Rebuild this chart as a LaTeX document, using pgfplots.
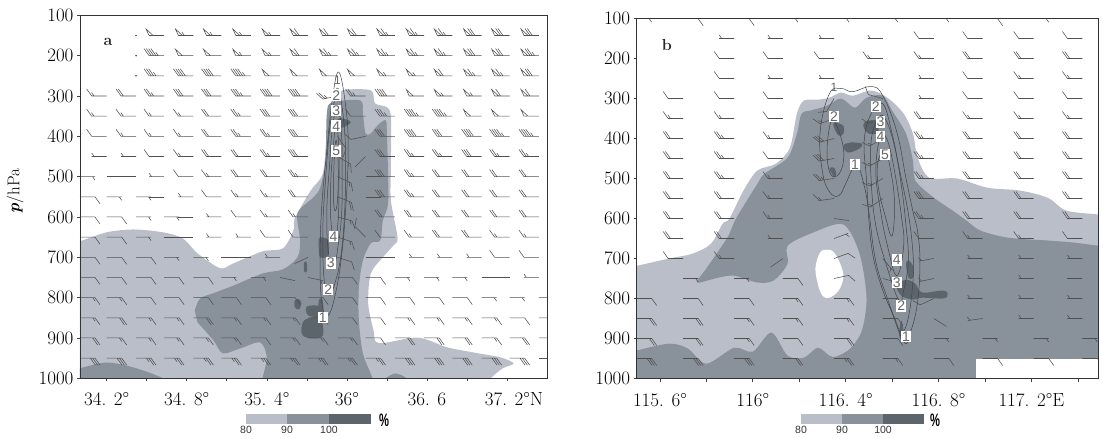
\documentclass[border=0pt]{standalone}
\usepackage{pgfplots}
\usepackage{fontspec}
\pgfplotsset{compat=1.18}
\newfontfamily\sansf{Liberation Sans}
\definecolor{c80}{RGB}{186,190,200}
\definecolor{c90}{RGB}{137,145,155}
\definecolor{c100}{RGB}{93,101,108}
\definecolor{barbc}{RGB}{80,80,80}
\definecolor{contc}{RGB}{65,68,72}
\newcommand\BS{\pgfpathmoveto{\pgfqpoint{0pt}{0pt}}\pgfpathlineto{\pgfqpoint{-15pt}{0pt}}}
\newcommand\BF[1]{\pgfpathmoveto{\pgfqpoint{#1pt}{0pt}}\pgfpathlineto{\pgfpointadd{\pgfqpoint{#1pt}{0pt}}{\pgfqpoint{-5pt}{7pt}}}}
\newcommand\BH[1]{\pgfpathmoveto{\pgfqpoint{#1pt}{0pt}}\pgfpathlineto{\pgfpointadd{\pgfqpoint{#1pt}{0pt}}{\pgfqpoint{-2.5pt}{3.5pt}}}}
\newcommand\BP{\pgfpathmoveto{\pgfqpoint{-15pt}{0pt}}\pgfpathlineto{\pgfqpoint{-18pt}{6.5pt}}\pgfpathlineto{\pgfqpoint{-11pt}{0pt}}}
\newcommand\defbarb[2]{%
 \pgfdeclareplotmark{w#1}{\BS #2\pgfusepathqstroke}%
 \pgfdeclareplotmark{e#1}{\pgftransformrotate{180}\BS #2\pgfusepathqstroke}}
\defbarb{0}{}
\defbarb{1}{\BH{-12.5}}
\defbarb{2}{\BF{-15}}
\defbarb{3}{\BF{-15}\BH{-12.7}}
\defbarb{4}{\BF{-15}\BF{-12.7}}
\defbarb{5}{\BF{-15}\BF{-12.7}\BH{-10.4}}
\defbarb{6}{\BF{-15}\BF{-12.7}\BF{-10.4}}
\defbarb{7}{\BF{-15}\BF{-12.7}\BF{-10.4}\BH{-8.1}}
\defbarb{8}{\BF{-15}\BF{-12.7}\BF{-10.4}\BF{-8.1}}
\defbarb{9}{\BF{-15}\BF{-12.7}\BF{-10.4}\BF{-8.1}\BH{-5.8}}
\defbarb{10}{\BP}
\defbarb{11}{\BP\BH{-9}}
\defbarb{12}{\BP\BF{-9}}
\defbarb{13}{\BP\BF{-9}\BH{-6.7}}
\defbarb{14}{\BP\BF{-9}\BF{-6.7}}
\defbarb{15}{\BP\BF{-9}\BF{-6.7}\BH{-4.4}}
\pgfplotsset{
 barbs/.style={only marks,scatter,scatter src=explicit symbolic,line width=.55pt,
  scatter/classes={d={mark=*,mark size=.5,barbc},
  w0={mark=w0,barbc},w1={mark=w1,barbc},w2={mark=w2,barbc},w3={mark=w3,barbc},w4={mark=w4,barbc},
  w5={mark=w5,barbc},w6={mark=w6,barbc},w7={mark=w7,barbc},w8={mark=w8,barbc},w9={mark=w9,barbc},
  w10={mark=w10,barbc},w11={mark=w11,barbc},w12={mark=w12,barbc},w13={mark=w13,barbc},w14={mark=w14,barbc},w15={mark=w15,barbc},
  e0={mark=e0,barbc},e1={mark=e1,barbc},e2={mark=e2,barbc},e3={mark=e3,barbc},e4={mark=e4,barbc},e5={mark=e5,barbc},e6={mark=e6,barbc}}},
 panel/.style={scale only axis,y dir=reverse,ymin=100,ymax=1000,ytick={100,200,...,1000},
  axis on top,clip=true,clip marker paths=true,tick align=outside,major tick length=3pt,
  axis line style={black!80,line width=.8pt},
  tick style={black!75,line width=.6pt},
  xtick pos=lower,ytick pos=lower,
  /pgf/number format/assume math mode=true,
  /pgf/number format/set thousands separator={},
  ticklabel style={font=\fontsize{19}{21}\selectfont,black},
  yticklabel style={xshift=0pt},
  xticklabel style={yshift=-8pt}},
 fa/.style={draw=none,smooth,tension=.5},
 pa/.style={draw=none,smooth cycle,tension=.6},
 ct/.style={contc,line width=.5pt,smooth cycle,tension=.7,no marks}
}
\newcommand\rb[4]{\addplot[only marks,mark=#1,mark options={rotate=#2},barbc,line width=.55pt] coordinates {(#3,#4)};}
\tikzset{lb/.style={fill=white,inner sep=1pt,text=black!60,font=\sansf\fontsize{14}{14}\selectfont}}
\begin{document}
\begin{tikzpicture}
\path[use as bounding box] (0,0) rectangle (1103pt,439pt);
\begin{axis}[panel,at={(80pt,60.7pt)},anchor=south west,width=467pt,height=363pt,
 xmin=34,xmax=37.5,xtick={34.2,34.5,34.8,35.1,35.4,35.7,36,36.3,36.6,36.9,37.2},
 xticklabels={34. 2\textdegree,,34. 8\textdegree,,35. 4\textdegree,,36\textdegree,,36. 6,,\hspace*{14pt}37. 2\textdegree N},
 ylabel={\textbf{\textit{p}}/hPa},
 ylabel style={at={(axis description cs:-0.139,0.516)},anchor=center,font=\fontsize{17}{18}\selectfont,black}]
\addplot[fa,fill=c80] coordinates {(33.9,665)(34,660)(34.2,638)(34.4,631)(34.62,638)(34.77,653)(34.88,690)(35.05,727)(35.15,715)(35.37,685)(35.52,678)(35.6,633)(35.61,603)(35.73,534)(35.82,492)(35.85,393)(35.89,311)(35.97,286)(36.18,286)(36.21,318)(36.3,328)(36.33,353)(36.33,477)(36.33,559)(36.38,651)(36.35,670)(36.27,700)(36.18,740)(36.16,814)(36.2,881)(36.24,913)(36.53,899)(36.75,923)(36.95,936)(37.15,948)(37.25,963)(37.17,975)(37.08,1000)(37.05,1030)(33.9,1030)} --cycle;
\addplot[fa,fill=c90] coordinates {(33.9,985)(34,975)(34.2,961)(34.4,973)(34.62,1000)(34.7,1030)(33.9,1030)} --cycle;
\addplot[fa,fill=c90] coordinates {(34.86,832)(34.9,802)(35,789)(35.15,770)(35.37,740)(35.52,730)(35.63,700)(35.65,658)(35.63,591)(35.75,551)(35.8,527)(35.84,460)(35.85,343)(35.89,316)(36.1,311)(36.12,343)(36.14,393)(36.18,393)(36.23,373)(36.29,360)(36.3,393)(36.31,559)(36.27,608)(36.25,658)(36.18,665)(36.12,708)(36.09,775)(36.09,856)(36.12,938)(36.19,998)(36.19,1020)(35.37,1020)(35.37,998)(35.4,948)(35.35,911)(35.2,926)(35.07,938)(35,906)(34.88,861)} --cycle;
\addplot[fa,fill=c90] coordinates {(36.29,1000)(36.36,988)(36.44,998)(36.46,1020)(36.27,1020)} --cycle;
\addplot[pa,fill=c100] coordinates {(35.66,874)(35.69,854)(35.8,851)(35.82,894)(35.74,901)(35.67,894)};
\addplot[pa,fill=c100] coordinates {(35.7,822)(35.8,822)(35.8,846)(35.71,844)};
\addplot[pa,fill=c100] coordinates {(35.79,807)(35.82,807)(35.82,851)(35.79,851)};
\addplot[pa,fill=c100] coordinates {(35.61,807)(35.64,804)(35.66,814)(35.64,829)(35.61,824)};
\addplot[pa,fill=c100] coordinates {(35.68,713)(35.7,713)(35.7,735)(35.68,735)};
\addplot[pa,fill=c100] coordinates {(35.79,653)(35.82,651)(35.86,658)(35.86,695)(35.8,700)(35.79,678)};
\addplot[pa,fill=c100] coordinates {(35.95,355)(36.03,365)(35.95,380)(35.91,368)};
\addplot[ct] coordinates {(35.94,241)(35.995,336)(36.01,435)(35.995,559)(35.965,683)(35.92,782)(35.86,844)(35.81,807)(35.8,683)(35.815,559)(35.85,435)(35.89,311)};
\addplot[ct] coordinates {(35.935,281)(35.98,373)(35.99,484)(35.98,608)(35.95,708)(35.905,770)(35.87,794)(35.83,757)(35.82,633)(35.84,509)(35.87,385)(35.9,323)};
\addplot[ct] coordinates {(35.93,323)(35.96,397)(35.965,497)(35.96,596)(35.935,670)(35.9,727)(35.86,683)(35.85,584)(35.87,472)(35.89,385)};
\addplot[ct] coordinates {(35.92,365)(35.94,435)(35.94,534)(35.935,608)(35.91,658)(35.88,608)(35.88,509)(35.9,422)};
\addplot[ct] coordinates {(35.92,410)(35.935,472)(35.93,559)(35.91,584)(35.9,547)(35.905,460)};
\addplot[barbs] coordinates {
(34.42,150)[d](34.63,150)[w10](34.85,150)[w11](35.06,150)[w11](35.28,150)[w11](35.5,150)[w11](35.71,150)[w12](35.93,150)[w12](36.14,150)[w12](36.36,150)[w13](36.58,150)[w13](36.79,150)[w13](37.01,150)[w14](37.22,150)[w14](37.44,150)[w14]
(34.42,200)[d](34.63,200)[w9](34.85,200)[w10](35.06,200)[w10](35.28,200)[w11](35.5,200)[w11](35.71,200)[w12](35.93,200)[w13](36.14,200)[w13](36.36,200)[w13](36.58,200)[w13](36.79,200)[w13](37.01,200)[w14](37.22,200)[w14](37.44,200)[w15]
(34.42,250)[d](34.63,250)[w7](34.85,250)[w8](35.06,250)[w8](35.28,250)[w9](35.5,250)[w10](35.71,250)[w10](35.93,250)[w10](36.14,250)[w10](36.36,250)[w11](36.58,250)[w11](36.79,250)[w12](37.01,250)[w13](37.22,250)[w13](37.44,250)[w14]
(34.2,300)[w3](34.42,300)[w4](34.63,300)[w5](34.85,300)[w6](35.06,300)[w6](35.28,300)[w7](35.5,300)[w8](35.71,300)[w8](36.14,300)[w5](36.36,300)[w8](36.58,300)[w10](36.79,300)[w11](37.01,300)[w11](37.22,300)[w12](37.44,300)[w12]
(34.2,350)[w3](34.42,350)[w3](34.63,350)[w3](34.85,350)[w3](35.06,350)[w4](35.28,350)[w5](35.5,350)[w6](35.71,350)[w6](36.14,350)[w2](36.36,350)[w7](36.58,350)[w9](36.79,350)[w9](37.01,350)[w10](37.22,350)[w10](37.44,350)[w10]
(34.2,400)[w2](34.42,400)[w3](34.63,400)[w3](34.85,400)[w3](35.06,400)[w4](35.28,400)[w5](35.5,400)[w5](35.71,400)[w6](36.36,400)[w6](36.58,400)[w8](36.79,400)[w6](37.01,400)[w8](37.22,400)[w9](37.44,400)[w9]
(34.2,450)[w1](34.42,450)[w1](34.63,450)[w2](34.85,450)[w3](35.06,450)[w4](35.28,450)[w4](35.5,450)[w5](35.71,450)[w6](36.36,450)[w6](36.58,450)[w5](36.79,450)[w5](37.01,450)[w6](37.22,450)[w5](37.44,450)[w5]
(34,500)[e1](34.2,500)[e0](34.42,500)[w0](34.63,500)[w1](34.85,500)[w2](35.06,500)[w3](35.28,500)[w4](35.5,500)[w4](35.71,500)[w5](36.14,500)[e0](36.36,500)[w6](36.58,500)[w5](36.79,500)[w4](37.01,500)[w4](37.22,500)[w4](37.44,500)[w4]
(34,550)[e2](34.2,550)[e1](34.42,550)[e1](34.63,550)[w0](34.85,550)[w1](35.06,550)[w2](35.28,550)[w3](35.5,550)[w3](35.71,550)[w4](36.14,550)[e0](36.36,550)[w6](36.58,550)[w5](36.79,550)[w4](37.01,550)[w4](37.22,550)[w4](37.44,550)[w4]
(34,600)[e2](34.2,600)[e2](34.42,600)[e1](34.63,600)[e1](34.85,600)[w0](35.06,600)[w1](35.28,600)[w2](35.5,600)[w3](35.71,600)[w3](36.36,600)[w4](36.58,600)[w4](36.79,600)[w4](37.01,600)[w4](37.22,600)[w4](37.44,600)[w4]
(34,650)[e2](34.2,650)[e2](34.42,650)[e1](34.63,650)[e0](34.85,650)[w0](35.06,650)[w1](35.28,650)[w1](35.5,650)[w2](35.71,650)[w2](36.36,650)[w2](36.58,650)[w3](36.79,650)[w4](37.01,650)[w4](37.22,650)[w3](37.44,650)[w3]
(34,700)[e2](34.2,700)[e2](34.42,700)[e2](34.63,700)[e1](34.85,700)[e1](35.06,700)[e0](35.28,700)[w0](35.5,700)[w1](36.14,700)[e0](36.36,700)[w0](36.58,700)[w1](36.79,700)[w1](37.01,700)[w1](37.22,700)[w2](37.44,700)[w2]
(34,750)[e2](34.2,750)[e2](34.42,750)[e2](34.63,750)[e2](34.85,750)[e2](35.06,750)[e1](35.28,750)[e1](35.93,750)[e2](36.14,750)[e2](36.36,750)[e1](36.58,750)[e1](36.79,750)[e1](37.01,750)[e0](37.22,750)[w0](37.44,750)[w1]
(34,800)[e3](34.2,800)[e3](34.42,800)[e2](34.63,800)[e2](34.85,800)[e2](35.06,800)[e2](35.28,800)[e2](35.5,800)[e2](35.71,800)[e2](35.93,800)[e2](36.14,800)[e2](36.36,800)[e2](36.58,800)[e2](36.79,800)[e2](37.01,800)[e1](37.22,800)[e1](37.44,800)[e1]
(34,850)[e3](34.2,850)[e4](34.42,850)[e3](34.63,850)[e3](34.85,850)[e4](35.06,850)[e3](35.28,850)[e3](35.5,850)[e3](35.71,850)[e3](35.93,850)[e2](36.14,850)[e2](36.36,850)[e3](36.58,850)[e3](36.79,850)[e3](37.01,850)[e3](37.22,850)[e2](37.44,850)[e1]
(34,900)[e4](34.2,900)[e3](34.42,900)[e3](34.63,900)[e3](34.85,900)[e3](35.06,900)[e3](35.28,900)[e2](35.5,900)[e3](35.71,900)[e3](35.93,900)[e3](36.14,900)[e2](36.36,900)[e4](36.58,900)[e4](36.79,900)[e4](37.01,900)[e3](37.22,900)[e4](37.44,900)[e3]
(34,950)[e6](34.2,950)[e6](34.42,950)[e5](34.63,950)[e5](34.85,950)[e5](35.06,950)[e5](35.28,950)[e5](35.5,950)[e5](35.71,950)[e5](35.93,950)[e5](36.14,950)[e5](36.36,950)[e6](36.58,950)[e6](36.79,950)[e6](37.01,950)[e6](37.22,950)[e6](37.44,950)[e0]
};
\rb{w5}{12}{35.93}{300}\rb{e2}{-55}{35.93}{400}\rb{e3}{-30}{35.93}{450}\rb{e3}{-25}{35.93}{500}\rb{e4}{-22}{35.93}{550}\rb{e3}{-15}{35.93}{600}\rb{e3}{-18}{35.93}{650}\rb{e2}{-18}{35.93}{700}
\rb{w2}{12}{36.14}{400}\rb{w0}{45}{36.14}{450}\rb{w2}{-45}{36.14}{650}\rb{w0}{25}{35.71}{700}\rb{e0}{-12}{35.5}{750}\rb{e1}{-12}{35.71}{750}
\node[lb] at (axis cs:35.82,849) {1};
\node[lb] at (axis cs:35.86,780) {2};
\node[lb] at (axis cs:35.88,713) {3};
\node[lb] at (axis cs:35.9,648) {4};
\node[lb] at (axis cs:35.92,437) {5};
\node[lb] at (axis cs:35.92,375) {4};
\node[lb] at (axis cs:35.92,336) {3};
\node[lb] at (axis cs:35.92,298) {2};
\node[lb,fill=none,font=\sansf\fontsize{12}{12}\selectfont] at (axis cs:35.93,262) {1};
\node[font=\bfseries\fontsize{16}{16}\selectfont,black!85] at (axis cs:34.21,165) {a};
\end{axis}
\begin{axis}[panel,at={(636.7pt,60.5pt)},anchor=south west,width=462pt,height=360pt,
 xmin=115.5,xmax=117.49,xtick={115.6,115.8,116,116.2,116.4,116.6,116.8,117,117.2,117.4},
 xticklabels={115. 6\textdegree,,116\textdegree,,116. 4\textdegree,,116. 8\textdegree,,117. 2\textdegree E,}]
\addplot[fa,fill=c80] coordinates {(115.45,725)(115.64,700)(115.74,688)(115.82,663)(115.87,613)(115.9,600)(115.96,530)(116.02,480)(116.1,463)(116.16,423)(116.19,338)(116.22,305)(116.28,303)(116.33,298)(116.38,285)(116.43,293)(116.51,280)(116.58,298)(116.65,338)(116.69,388)(116.71,448)(116.76,498)(116.88,500)(117.01,523)(117.15,530)(117.27,548)(117.35,580)(117.49,590)(117.7,600)(117.72,700)(117.7,1020)(115.45,1020)} --cycle;
\addplot[fa,fill=c90] coordinates {(115.45,938)(115.5,930)(115.64,913)(115.72,925)(115.8,963)(115.92,923)(116,933)(116.08,885)(116.15,943)(116.22,948)(116.28,923)(116.33,943)(116.36,945)(116.42,925)(116.47,880)(116.49,798)(116.46,688)(116.39,615)(116.26,635)(116.15,668)(116.15,713)(116.09,755)(116.02,760)(115.92,743)(115.85,748)(115.76,760)(115.8,725)(115.89,648)(115.93,598)(116.02,513)(116.05,488)(116.15,448)(116.19,388)(116.21,338)(116.25,330)(116.32,318)(116.38,300)(116.44,323)(116.49,298)(116.56,293)(116.6,330)(116.66,388)(116.69,455)(116.7,505)(116.78,548)(116.86,580)(116.92,605)(116.98,630)(117.1,648)(117.27,655)(117.38,660)(117.49,668)(117.7,680)(117.72,750)(117.7,1020)(115.45,1020)} --cycle;
\addplot[pa,fill=white] coordinates {(116.27,723)(116.29,685)(116.32,678)(116.35,685)(116.38,718)(116.39,748)(116.37,780)(116.33,798)(116.3,793)(116.28,763)};
\addplot[draw=none,fill=white] coordinates {(116.96,950)(117.6,950)(117.6,1010)(116.96,1010)} --cycle;
\addplot[pa,fill=c100] coordinates {(116.35,360)(116.39,368)(116.39,388)(116.37,393)(116.35,373)};
\addplot[pa,fill=c100] coordinates {(116.48,360)(116.53,355)(116.54,385)(116.5,388)(116.48,375)};
\addplot[pa,fill=c100] coordinates {(116.39,418)(116.42,410)(116.47,413)(116.46,425)(116.41,435)};
\addplot[pa,fill=c100] coordinates {(116.33,475)(116.35,473)(116.36,488)(116.35,495)};
\addplot[pa,fill=c100] coordinates {(116.66,713)(116.67,705)(116.69,718)(116.69,748)(116.67,748)};
\addplot[pa,fill=c100] coordinates {(116.62,768)(116.66,753)(116.7,763)(116.73,785)(116.82,780)(116.84,790)(116.82,800)(116.73,798)(116.69,803)(116.64,793)};
\addplot[pa,fill=c100] coordinates {(116.63,888)(116.64,855)(116.65,888)(116.64,905)};
\addplot[ct] coordinates {(116.33,288)(116.29,383)(116.3,483)(116.33,533)(116.37,543)(116.4,513)(116.43,475)(116.45,463)(116.48,518)(116.5,583)(116.53,708)(116.58,800)(116.65,908)(116.68,883)(116.71,808)(116.72,708)(116.71,633)(116.69,583)(116.66,500)(116.62,383)(116.56,293)(116.51,270)(116.43,283)(116.38,275)};
\addplot[ct] coordinates {(116.35,355)(116.39,423)(116.38,480)(116.34,493)(116.32,443)(116.33,373)};
\addplot[ct] coordinates {(116.51,338)(116.56,313)(116.6,388)(116.63,473)(116.67,588)(116.69,688)(116.69,755)(116.67,848)(116.64,885)(116.61,848)(116.55,763)(116.51,663)(116.49,505)(116.48,405)};
\addplot[ct] coordinates {(116.54,350)(116.57,350)(116.61,418)(116.64,518)(116.66,618)(116.67,705)(116.65,780)(116.63,805)(116.58,725)(116.53,618)(116.51,505)(116.51,405)};
\addplot[ct] coordinates {(116.55,395)(116.58,405)(116.61,480)(116.64,593)(116.65,668)(116.62,743)(116.58,668)(116.55,580)(116.53,480)};
\addplot[ct] coordinates {(116.57,435)(116.59,468)(116.61,555)(116.6,643)(116.57,593)(116.54,518)(116.54,455)};
\addplot[barbs] coordinates {
(115.5,100.5)[e1](115.7,100.5)[e2](115.92,100.5)[e2](116.13,100.5)[e1](116.35,100.5)[e1](116.56,100.5)[e1](116.78,100.5)[e1](116.99,100.5)[e2](117.21,100.5)[e1]
(115.92,150)[w1](116.13,150)[w1](116.35,150)[w1](116.56,150)[w1](116.78,150)[w2](116.99,150)[w2](117.21,150)[w2](117.42,150)[w2]
(115.92,200)[w2](116.13,200)[w2](116.35,200)[w2](116.56,200)[w3](116.78,200)[w3](116.99,200)[w4](117.21,200)[w4](117.42,200)[w4]
(115.92,250)[w2](116.13,250)[w1](116.35,250)[w1](116.56,250)[w1](116.78,250)[w1](116.99,250)[w2](117.21,250)[w3](117.42,250)[w3]
(115.7,300)[w2](115.92,300)[w2](116.13,300)[w2](116.78,300)[w1](116.99,300)[w2](117.21,300)[w2](117.42,300)[w2]
(115.7,350)[w3](115.92,350)[w3](116.13,350)[w2](116.78,350)[w4](116.99,350)[w3](117.21,350)[w3](117.42,350)[w3]
(115.7,400)[w4](115.92,400)[w5](116.13,400)[w3](116.78,400)[w5](116.99,400)[w4](117.21,400)[w4](117.42,400)[w4]
(115.7,450)[w4](115.92,450)[w5](116.13,450)[w2](116.78,450)[w5](116.99,450)[w4](117.21,450)[w4](117.42,450)[w4]
(115.7,500)[w4](115.92,500)[w5](116.13,500)[w3](116.78,500)[w5](116.99,500)[w4](117.21,500)[w4](117.42,500)[w4]
(115.7,550)[w4](115.92,550)[w4](116.13,550)[w3](116.78,550)[w6](116.99,550)[w4](117.21,550)[w4](117.42,550)[w4]
(115.7,600)[w4](115.92,600)[w4](116.13,600)[w3](116.78,600)[w5](116.99,600)[w4](117.21,600)[w4](117.42,600)[w4]
(115.7,650)[w4](115.92,650)[w4](116.13,650)[w1](116.78,650)[w2](116.99,650)[w3](117.21,650)[w3](117.42,650)[w2]
(115.7,700)[w2](115.92,700)[w3](116.99,700)[w1](117.21,700)[w1](117.42,700)[w1]
(115.7,750)[e1](115.92,750)[e1](116.13,750)[e2](116.99,750)[w1](117.21,750)[w1](117.42,750)[w0]
(115.5,800)[e2](115.7,800)[e2](115.92,800)[e2](116.13,800)[e3](116.35,800)[e3](116.56,800)[e3](116.99,800)[w1](117.21,800)[w1](117.42,800)[w1]
(115.5,850)[e4](115.7,850)[e4](115.92,850)[e3](116.13,850)[e3](116.35,850)[e3](116.56,850)[e2](117.21,850)[w1](117.42,850)[w1]
(115.5,900)[e4](115.7,900)[e4](115.92,900)[e3](116.13,900)[e2](116.35,900)[e4](116.56,900)[e2](116.78,900)[e1](116.99,900)[e1](117.21,900)[e1](117.42,900)[e1]
(115.5,950)[e6](115.7,950)[e6](115.92,950)[e6](116.13,950)[e4](116.35,950)[e5](116.56,950)[e3](116.78,950)[e2](116.99,950)[e2](117.21,950)[e2](117.42,950)[e2]
};
\rb{w2}{60}{116.35}{300}\rb{w2}{-15}{116.56}{300}\rb{w3}{20}{116.35}{350}\rb{w3}{20}{116.56}{350}\rb{w6}{15}{116.35}{400}\rb{w3}{30}{116.56}{400}
\rb{w6}{10}{116.35}{450}\rb{w3}{30}{116.56}{450}\rb{w5}{8}{116.35}{500}\rb{w3}{30}{116.56}{500}\rb{w3}{8}{116.35}{550}\rb{w3}{35}{116.56}{550}\rb{e0}{-8}{116.35}{600}
\rb{e1}{20}{116.35}{650}\rb{w0}{35}{116.13}{700}\rb{e2}{20}{116.35}{700}\rb{e1}{-50}{116.56}{700}\rb{w1}{10}{116.78}{700}
\rb{e2}{12}{116.35}{750}\rb{e1}{-15}{116.56}{750}\rb{w1}{12}{116.78}{750}\rb{w2}{25}{116.78}{800}\rb{e0}{-32}{116.78}{850}\rb{w1}{8}{116.99}{850}
\node[lb,fill=none,font=\sansf\fontsize{12}{12}\selectfont] at (axis cs:116.35,273) {1};
\node[lb] at (axis cs:116.35,345) {2};
\node[lb] at (axis cs:116.53,320) {2};
\node[lb] at (axis cs:116.55,358) {3};
\node[lb] at (axis cs:116.55,395) {4};
\node[lb] at (axis cs:116.57,440) {5};
\node[lb] at (axis cs:116.44,465) {1};
\node[lb] at (axis cs:116.62,703) {4};
\node[lb] at (axis cs:116.62,760) {3};
\node[lb] at (axis cs:116.64,818) {2};
\node[lb] at (axis cs:116.66,895) {1};
\node[font=\bfseries\fontsize{16}{16}\selectfont,black!85] at (axis cs:115.63,165) {b};
\end{axis}
\fill[c80] (246pt,15pt) rectangle (287pt,25pt);
\fill[c90] (287pt,15pt) rectangle (329pt,25pt);
\fill[c100] (329pt,15pt) rectangle (371pt,25pt);
\fill[c80] (801pt,15pt) rectangle (842pt,25pt);
\fill[c90] (842pt,15pt) rectangle (883pt,25pt);
\fill[c100] (883pt,15pt) rectangle (924pt,25pt);
\foreach \x/\t in {246/80,287/90,329/100,801/80,842/90,883/100}
 \node[font=\sansf\fontsize{10.5}{11}\selectfont,black!80] at (\x pt,9pt) {\t};
\node[font=\sansf\bfseries\fontsize{18}{18}\selectfont,black,xscale=.62] at (384pt,19pt) {\%};
\node[font=\sansf\bfseries\fontsize{18}{18}\selectfont,black,xscale=.62] at (935pt,19pt) {\%};
\end{tikzpicture}
\end{document}
